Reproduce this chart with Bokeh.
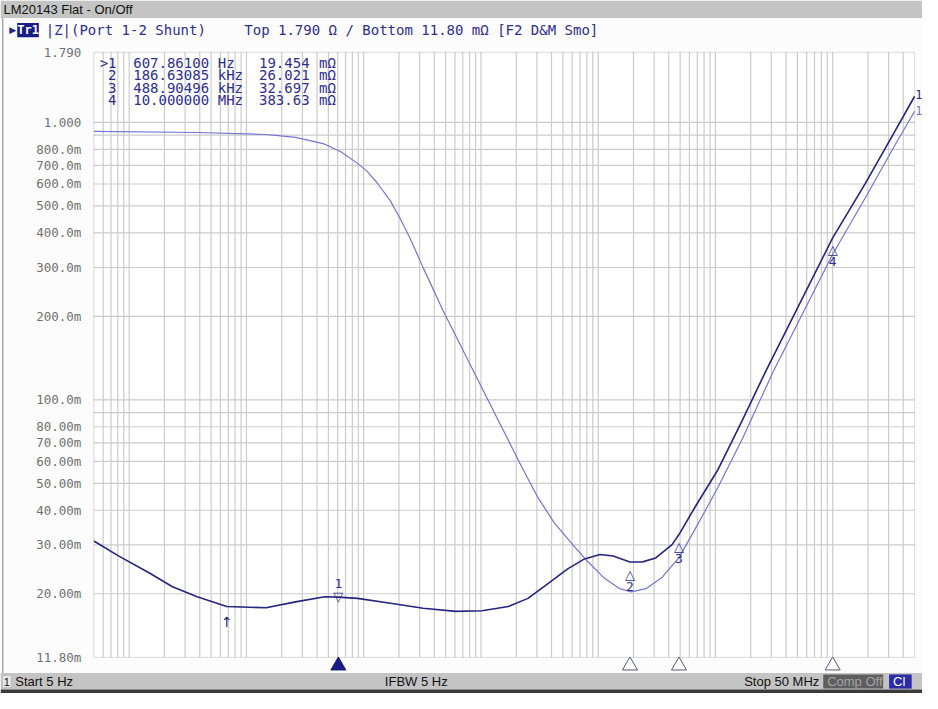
import math
from bokeh.plotting import figure
from bokeh.models import Range1d, Label, BoxAnnotation
from bokeh.embed import file_html
from bokeh.resources import INLINE
from bokeh.core.properties import value

# ---------------- data ----------------
x_start, x_stop = 5, 50e6
y_bottom, y_top = 0.0118, 1.79

tr1_freq = [5, 8.1, 14.5, 23.4, 38, 68, 147, 262, 466.5, 607.861, 887, 1690, 3214, 6113,
            10230, 17130, 25200, 37070, 54540, 75140, 103700, 134100, 186630.85, 239200,
            309800, 426900, 488904.96, 670600, 1.051e6, 1.703e6, 2.671e6, 10e6, 19.0e6,
            33.9e6, 50e6]
tr1_z = [0.0310, 0.0274, 0.0239, 0.0212, 0.0195, 0.0180, 0.0178, 0.0187, 0.01952, 0.019454,
         0.01925, 0.01848, 0.01774, 0.01728, 0.01737, 0.01799, 0.01925, 0.02173, 0.02455,
         0.02662, 0.02772, 0.02737, 0.026021, 0.02606, 0.02693, 0.03007, 0.032697, 0.0411,
         0.0560, 0.0847, 0.1261, 0.38363, 0.603, 0.928, 1.243]

tr2_freq = [5, 38, 147, 177.7, 262, 349, 466.5, 644, 887, 1076, 1305, 1690, 2050, 2487, 3214,
            4727, 6113, 7915, 10230, 13230, 17130, 22140, 30580, 42110, 58140, 80230, 110500,
            152600, 191200, 255500, 351900, 488904.96, 670600, 834000, 1.051e6, 1.703e6,
            3.098e6, 10e6, 19.0e6, 33.9e6, 50e6]
tr2_z = [0.928, 0.920, 0.905, 0.898, 0.884, 0.860, 0.835, 0.782, 0.712, 0.665, 0.605, 0.5217,
         0.4496, 0.3823, 0.2997, 0.2108, 0.1698, 0.1367, 0.1101, 0.0887, 0.0715, 0.0576,
         0.0445, 0.0361, 0.0307, 0.0263, 0.02295, 0.02087, 0.02032, 0.02087, 0.02295, 0.027,
         0.0342, 0.0404, 0.0484, 0.0726, 0.1261, 0.335, 0.535, 0.828, 1.098]

marker_ids = [">1", "2", "3", "4"]
marker_freq = [607.861, 186630.85, 488904.96, 10e6]
marker_z = [0.019454, 0.026021, 0.032697, 0.38363]
marker_freq_txt = ["607.86100", "186.63085", "488.90496", "10.000000"]
marker_freq_unit = ["Hz", "kHz", "kHz", "MHz"]
marker_z_txt = ["19.454", "26.021", "32.697", "383.63"]
marker_z_unit = ["mΩ", "mΩ", "mΩ", "mΩ"]
ref_arrow_freq = 68

y_ticks = [0.0118, 0.02, 0.03, 0.04, 0.05, 0.06, 0.07, 0.08, 0.1, 0.2, 0.3, 0.4, 0.5,
           0.6, 0.7, 0.8, 1.0, 1.79]
y_tick_labels = ["11.80m", "20.00m", "30.00m", "40.00m", "50.00m", "60.00m", "70.00m",
                 "80.00m", "100.0m", "200.0m", "300.0m", "400.0m", "500.0m", "600.0m",
                 "700.0m", "800.0m", "1.000", "1.790"]

title_text = "LM20143 Flat - On/Off"
trace_name = "Tr1"
trace_desc = "|Z|(Port 1-2 Shunt)"
scale_desc = "Top 1.790 Ω / Bottom 11.80 mΩ [F2 D&M Smo]"
status_start = "Start 5 Hz"
status_ifbw = "IFBW 5 Hz"
status_stop = "Stop 50 MHz"

# ---------------- layout ----------------
W, H = 922, 693
SX, SY = W / 938, H / 709
PL, PR, PT, PB = 95 * SX, 930 * SX, 53 * SY, 672 * SY   # plot area inside the canvas

dec_x = math.log10(x_stop / x_start)
dec_y = math.log10(y_top / y_bottom)
ppd_x = (PR - PL) / dec_x
ppd_y = (PB - PT) / dec_y
xr = Range1d(x_start / 10 ** (PL / ppd_x), x_stop * 10 ** ((W - PR) / ppd_x))
yr = Range1d(y_bottom / 10 ** ((H - PB) / ppd_y), y_top * 10 ** (PT / ppd_y))
y_indicator = y_bottom / 10 ** (8.5 * SY / ppd_y)   # row of marker indicators under the grid

NAVY = "#25257f"
LIGHT = "#7474d2"
MARK = "#2e2e8e"
GRIDC = "#cbcbcb"
BAR = "#c4c4c4"
MONO = "DejaVu Sans Mono"
SANS = "Liberation Sans"
SYM = "DejaVu Sans"


def rx(x):
    return x * SX


def ry(y):
    return H - y * SY


p = figure(width=W, height=H, output_backend="svg", toolbar_location=None,
           x_axis_type="log", y_axis_type="log", title=None,
           x_range=xr, y_range=yr, min_border=0)
p.axis.visible = False
p.grid.visible = False
p.outline_line_color = None
p.background_fill_color = "#fcfcfc"
p.border_fill_color = "#fcfcfc"

# plot area
p.add_layout(BoxAnnotation(left=x_start, right=x_stop, bottom=y_bottom, top=y_top,
                           fill_color="#ffffff", fill_alpha=1.0, line_color=None,
                           level="underlay"))

xgrid_ticks = [m * 10 ** e for e in range(0, 8) for m in range(1, 10)
               if x_start < m * 10 ** e < x_stop]
ygrid_ticks = [m * 10 ** e for e in range(-2, 1) for m in range(1, 10)
               if y_bottom < m * 10 ** e < y_top]
p.segment(x0=xgrid_ticks, x1=xgrid_ticks, y0=[y_bottom] * len(xgrid_ticks),
          y1=[y_top] * len(xgrid_ticks), line_color=GRIDC, line_width=1.2)
p.segment(x0=[x_start] * len(ygrid_ticks), x1=[x_stop] * len(ygrid_ticks), y0=ygrid_ticks,
          y1=ygrid_ticks, line_color=GRIDC, line_width=1.2)

# y tick labels
p.text(x=[x_start] * len(y_ticks), y=y_ticks, text=y_tick_labels, x_offset=-12.5,
       text_align="right", text_baseline="middle", text_font=value(MONO),
       text_font_size="12.5px", text_color="#707070")

p.line(tr2_freq, tr2_z, line_color=LIGHT, line_width=1.2)
p.line(tr1_freq, tr1_z, line_color=NAVY, line_width=1.6)

p.add_layout(BoxAnnotation(left=x_start, right=x_stop, bottom=y_bottom, top=y_top,
                           fill_color=None, line_color="#8a8a8a", line_width=1))

# marker indicators under the grid (active marker filled)
p.scatter(x=marker_freq, y=[y_indicator] * len(marker_freq), marker="triangle", size=15,
          fill_color=["#1a1a80", "#ffffff", "#ffffff", "#ffffff"],
          line_color=["#1a1a80", "#56567e", "#56567e", "#56567e"], line_width=1)


# ---------------- title bar and status bar ----------------
def sbox(x0, x1, y0, y1, color, line=None):
    p.add_layout(BoxAnnotation(left=rx(x0), right=rx(x1), top=ry(y0), bottom=ry(y1),
                               left_units="screen", right_units="screen",
                               top_units="screen", bottom_units="screen",
                               fill_color=color, fill_alpha=1.0, line_color=line,
                               level="overlay"))


sbox(0, 938, 0, 18, BAR)
sbox(1.5, 3, 18, 688, "#a8a8a8")
sbox(0, 938, 688, 705, BAR)
sbox(0, 938, 705, 709, "#3a3a3a")
sbox(837, 898, 689.5, 704, "#5e5e5e")
sbox(904, 927, 689.5, 704, "#2c2ca6")
sbox(2, 11, 690.5, 703, "#e6e6e6", line="#8a8a8a")
sbox(17, 39, 23, 37.5, "#1c1c86")


def slabel(x, y, text, font=SANS, size="13px", color="#111111", align="left", **kw):
    p.add_layout(Label(x=rx(x), y=ry(y), x_units="screen", y_units="screen", text=text,
                       text_font=font, text_font_size=size, text_color=color,
                       text_align=align, text_baseline="middle", level="overlay", **kw))


slabel(3, 9.5, title_text)
slabel(6.5, 697, "1", size="11px", align="center")
slabel(15, 697, status_start)
slabel(391, 697, status_ifbw)
slabel(833, 697, status_stop, align="right")
slabel(841, 697, "Comp Off", color="#a4a4a4")
slabel(908, 697, "Cl", color="#ffffff")

# header row
slabel(9, 30, "▶", font=SYM, size="9px", color=NAVY)
slabel(28, 30.5, trace_name, font=MONO, size="12px", color="#ffffff",
       text_font_style="bold", align="center")
slabel(46, 30.5, trace_desc, font=MONO, size="14px", color=MARK)
slabel(248, 30.5, scale_desc, font=MONO, size="14px", color=MARK)

# marker table
row_y = [64, 76.7, 89.4, 102.3]
for i in range(4):
    yy = row_y[i]
    slabel(118, yy, marker_ids[i], font=MONO, size="14px", color=MARK, align="right")
    slabel(135, yy, marker_freq_txt[i], font=MONO, size="14px", color=MARK)
    slabel(221, yy, marker_freq_unit[i], font=MONO, size="14px", color=MARK)
    slabel(263, yy, marker_z_txt[i], font=MONO, size="14px", color=MARK)
    slabel(324, yy, marker_z_unit[i], font=MONO, size="14px", color=MARK)

# markers on the trace
for i in range(4):
    f, z = marker_freq[i], marker_z[i]
    num = marker_ids[i].replace(">", "")
    if i == 0:
        p.add_layout(Label(x=f, y=z, text="▽", text_align="center", text_baseline="alphabetic",
                           y_offset=1, text_font=SYM, text_font_size="13px",
                           text_color=MARK))
        p.add_layout(Label(x=f, y=z, text=num, text_align="center", text_baseline="alphabetic",
                           y_offset=14, text_font=MONO, text_font_size="13px", text_color=MARK))
    else:
        p.add_layout(Label(x=f, y=z, text="△", text_align="center", text_baseline="alphabetic",
                           y_offset=-12, text_font=SYM, text_font_size="13px",
                           text_color=MARK))
        p.add_layout(Label(x=f, y=z, text=num, text_align="center", text_baseline="alphabetic",
                           y_offset=-24, text_font=MONO, text_font_size="13px", text_color=MARK))

# reference arrow under the low-frequency dip
p.add_layout(Label(x=ref_arrow_freq, y=ry(636), y_units="screen", text="↑",
                   text_align="center", text_baseline="alphabetic", text_font=SYM,
                   text_font_size="14px", text_color=NAVY))

# trace end labels
slabel(930.5, 96, "1", font=MONO, size="12px", color=NAVY)
slabel(930.5, 113, "1", font=MONO, size="12px", color=LIGHT)

open("out.html", "w").write(file_html(p, INLINE))
